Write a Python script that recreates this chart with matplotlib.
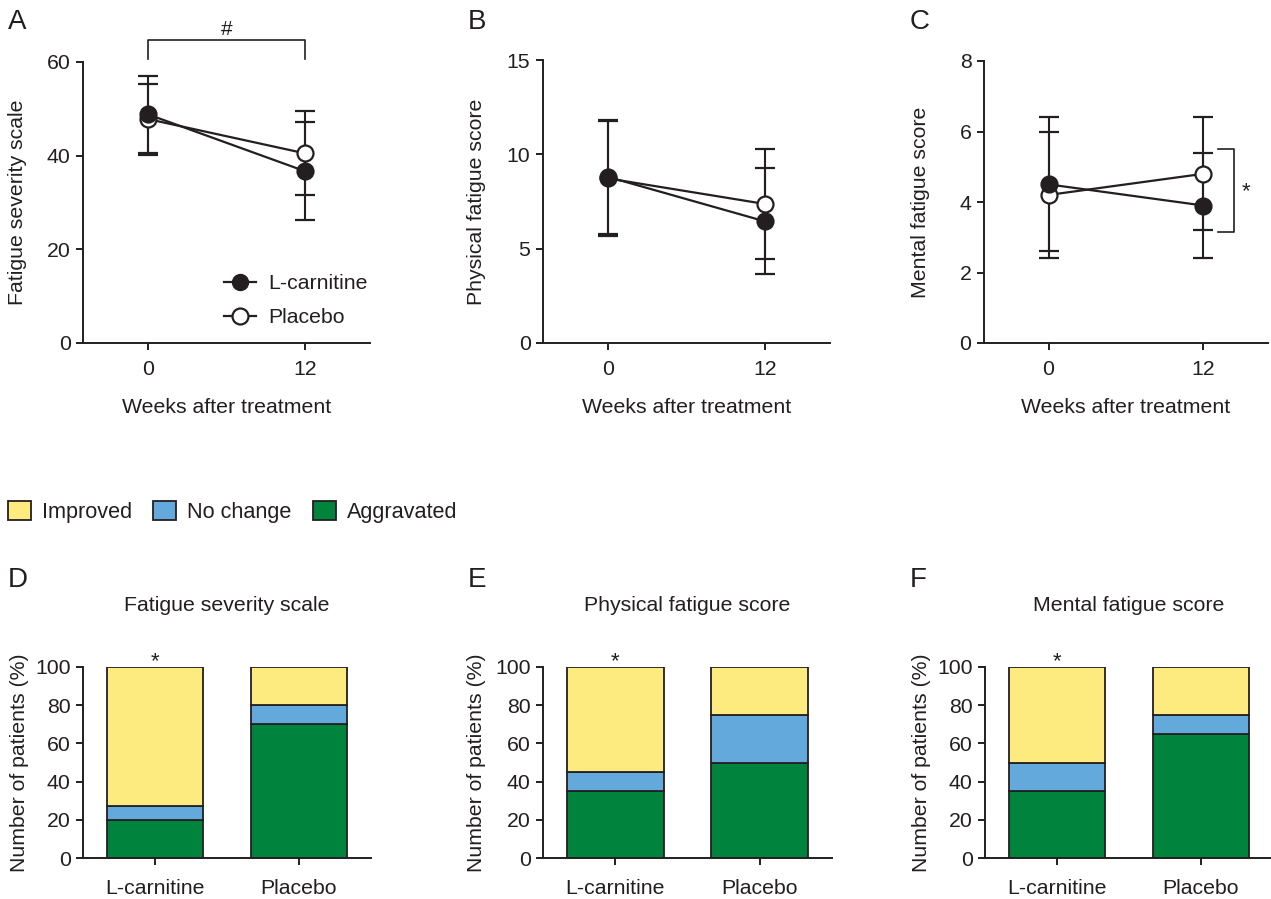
import matplotlib
matplotlib.use("Agg")
import matplotlib.pyplot as plt
from matplotlib.lines import Line2D
from matplotlib.patches import Patch

# ---------------- data ----------------
weeks = [0, 12]
week_labels = ["0", "12"]

# Panel A: Fatigue severity scale (mean, SD)
fss_lcar_mean = [48.8, 36.7]
fss_lcar_sd = [8.2, 10.5]
fss_plac_mean = [47.8, 40.5]
fss_plac_sd = [7.6, 9.0]

# Panel B: Physical fatigue score
phys_lcar_mean = [8.8, 6.45]
phys_lcar_sd = [3.02, 2.8]
phys_plac_mean = [8.72, 7.37]
phys_plac_sd = [3.03, 2.9]

# Panel C: Mental fatigue score
ment_lcar_mean = [4.5, 3.9]
ment_lcar_sd = [1.9, 1.5]
ment_plac_mean = [4.2, 4.8]
ment_plac_sd = [1.8, 1.6]

# Panels D-F: percentage of patients
groups = ["L-carnitine", "Placebo"]
fss_aggravated = [20, 70]
fss_nochange = [7, 10]
fss_improved = [73, 20]
phys_aggravated = [35, 50]
phys_nochange = [10, 25]
phys_improved = [55, 25]
ment_aggravated = [35, 65]
ment_nochange = [15, 10]
ment_improved = [50, 25]

# ---------------- style ----------------
plt.rcParams['font.family'] = ['Liberation Sans', 'DejaVu Sans']
FS = 15.3
INK = '#231f20'
C_IMP = '#FEEB80'
C_NOC = '#64A9DB'
C_AGG = '#00843D'

W, H = 1271, 899
fig = plt.figure(figsize=(W / 100, H / 100), dpi=100)


def ax_px(x0, x1, ytop, ybot):
    return fig.add_axes([x0 / W, 1 - ybot / H, (x1 - x0) / W, (ybot - ytop) / H])


def style_axes(ax):
    for s in ['top', 'right']:
        ax.spines[s].set_visible(False)
    for s in ['left', 'bottom']:
        ax.spines[s].set_linewidth(1.4)
        ax.spines[s].set_color(INK)
    ax.tick_params(direction='out', length=5, width=1.4, colors=INK,
                   labelsize=FS, labelcolor=INK, pad=4)


def line_panel(ax, lm, ls, pm, ps, ymax, yticks, ylabel, label_x):
    style_axes(ax)
    ekw = dict(color=INK, lw=1.6, capsize=7, capthick=1.5, elinewidth=1.5, zorder=3)
    ax.errorbar(weeks, pm, yerr=ps, fmt='-o', ms=11.5, mfc='white', mec=INK,
                mew=1.6, **ekw)
    ax.errorbar(weeks, lm, yerr=ls, fmt='-o', ms=11.5, mfc=INK, mec=INK,
                mew=1.6, **ekw)
    ax.set_xlim(-5, 17)
    ax.set_ylim(0, ymax)
    ax.set_xticks(weeks)
    ax.set_xticklabels(week_labels)
    ax.set_yticks(yticks)
    ax.tick_params(axis='x', pad=7)
    ax.set_ylabel(ylabel, fontsize=FS, color=INK)
    ax.yaxis.set_label_coords(label_x, 0.5)
    ax.set_xlabel("Weeks after treatment", fontsize=FS, color=INK, labelpad=14)


# ---------------- top row ----------------
axA = ax_px(83, 370, 62, 343)
line_panel(axA, fss_lcar_mean, fss_lcar_sd, fss_plac_mean, fss_plac_sd,
           60, [0, 20, 40, 60], "Fatigue severity scale", -0.195)
axA.plot([0, 0, 12, 12], [60.6, 64.8, 64.8, 60.6], color=INK, lw=1.2, clip_on=False)
axA.text(6, 67.0, "#", ha='center', va='center', fontsize=15, color=INK)
handles = [Line2D([], [], color=INK, lw=1.6, marker='o', ms=11.5, mfc=INK, mec=INK),
           Line2D([], [], color=INK, lw=1.6, marker='o', ms=11.5, mfc='white', mec=INK, mew=1.6)]
axA.legend(handles, ["L-carnitine", "Placebo"], loc='upper left',
           bbox_to_anchor=(0.49, 0.245), frameon=False, fontsize=FS,
           handlelength=1.5, handletextpad=0.6, labelspacing=0.7,
           borderpad=0, borderaxespad=0, labelcolor=INK)

axB = ax_px(543, 830, 60, 343)
line_panel(axB, phys_lcar_mean, phys_lcar_sd, phys_plac_mean, phys_plac_sd,
           15, [0, 5, 10, 15], "Physical fatigue score", -0.199)

axC = ax_px(984, 1268, 61, 343)
line_panel(axC, ment_lcar_mean, ment_lcar_sd, ment_plac_mean, ment_plac_sd,
           8, [0, 2, 4, 6, 8], "Mental fatigue score", -0.19)
axC.plot([13.1, 14.4, 14.4, 13.1], [5.5, 5.5, 3.15, 3.15], color=INK, lw=1.2, clip_on=False)
axC.text(15.3, 4.3, "*", ha='center', va='center', fontsize=16, color=INK)


# ---------------- bottom row ----------------
def bar_panel(ax, agg, noc, imp, title, label_x):
    style_axes(ax)
    x = list(range(len(groups)))
    bkw = dict(width=0.67, edgecolor=INK, linewidth=1.3, zorder=2)
    ax.bar(x, agg, color=C_AGG, **bkw)
    ax.bar(x, noc, bottom=agg, color=C_NOC, **bkw)
    bottom2 = [a + n for a, n in zip(agg, noc)]
    ax.bar(x, imp, bottom=bottom2, color=C_IMP, **bkw)
    ax.set_xlim(-0.5, 1.5)
    ax.set_ylim(0, 100)
    ax.set_yticks([0, 20, 40, 60, 80, 100])
    ax.set_xticks(x)
    ax.set_xticklabels(groups)
    ax.tick_params(axis='x', pad=10)
    ax.set_ylabel("Number of patients (%)", fontsize=FS, color=INK)
    ax.yaxis.set_label_coords(label_x, 0.5)
    ax.set_title(title, fontsize=FS, color=INK, pad=40)
    ax.text(0, 103.0, "*", ha='center', va='center', fontsize=16, color=INK)


axD = ax_px(83, 371, 667, 858)
bar_panel(axD, fss_aggravated, fss_nochange, fss_improved, "Fatigue severity scale", -0.1875)
axE = ax_px(543, 832, 667, 858)
bar_panel(axE, phys_aggravated, phys_nochange, phys_improved, "Physical fatigue score", -0.197)
axF = ax_px(985, 1273, 667, 858)
bar_panel(axF, ment_aggravated, ment_nochange, ment_improved, "Mental fatigue score", -0.1885)

# legend for bars
patches = [Patch(facecolor=C_IMP, edgecolor=INK, lw=1.3),
           Patch(facecolor=C_NOC, edgecolor=INK, lw=1.3),
           Patch(facecolor=C_AGG, edgecolor=INK, lw=1.3)]
fig.legend(patches, ["Improved", "No change", "Aggravated"], loc='center left',
           bbox_to_anchor=(8 / W, 1 - 512 / H), ncol=3, frameon=False, fontsize=15.6,
           handlelength=1.05, handleheight=0.95, handletextpad=0.5,
           columnspacing=1.0, borderpad=0, borderaxespad=0, labelcolor=INK)

# panel letters
for lab, (x, y) in {"A": (8, 22), "B": (468, 22), "C": (910, 22),
                    "D": (8, 580), "E": (468, 580), "F": (910, 580)}.items():
    fig.text(x / W, 1 - y / H, lab, fontsize=20, color=INK, ha='left', va='center')

fig.savefig("out.png", dpi=100)
